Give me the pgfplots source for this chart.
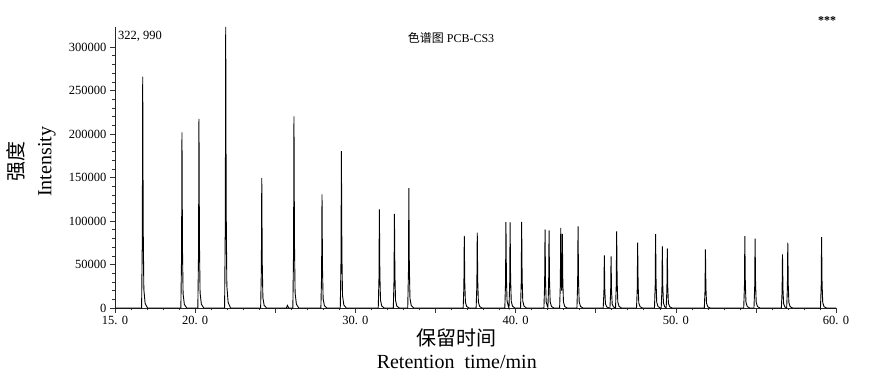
\documentclass[border=0pt]{standalone}
\usepackage{fontspec}
\setmainfont{Liberation Serif}
\newfontfamily\cjk{Noto Sans CJK SC}
\usepackage{pgfplots}
\pgfplotsset{compat=1.18}
\pgfplotstableread{
t h
15.0 0
16.66 0
16.705 79800
16.73 266000
16.76 93100
16.80 21300
16.88 5300
17.03 0
19.11 0
19.155 60600
19.18 202000
19.21 70700
19.25 16200
19.33 4000
19.48 0
20.17 0
20.215 65300
20.24 217500
20.27 76100
20.31 17400
20.39 4400
20.54 0
21.84 0
21.885 96900
21.91 322990
21.94 113000
21.98 25800
22.06 6500
22.21 0
24.09 0
24.135 44800
24.16 149400
24.19 52300
24.23 12000
24.31 3000
24.46 0
25.70 0
25.76 3000
25.84 0
26.10 0
26.145 66100
26.17 220200
26.20 77100
26.24 17600
26.32 4400
26.47 0
27.85 0
27.895 39200
27.92 130700
27.95 45700
27.99 10500
28.07 2600
28.22 0
29.06 0
29.105 54100
29.13 180300
29.16 63100
29.20 14400
29.28 3600
29.43 0
31.43 0
31.475 34000
31.50 113300
31.53 39700
31.57 9100
31.65 2300
31.80 0
32.37 0
32.415 32500
32.44 108300
32.47 37900
32.51 8700
32.59 2200
32.74 0
33.27 0
33.315 41300
33.34 137800
33.37 48200
33.41 11000
33.49 2800
33.64 0
36.73 0
36.775 24900
36.80 83000
36.83 29100
36.87 6600
36.95 1700
37.10 0
37.54 0
37.585 26000
37.61 86500
37.64 30300
37.68 6900
37.76 1700
37.91 0
39.33 0
39.375 29600
39.40 98700
39.43 34500
39.47 7900
39.55 2000
39.59 0
39.635 29500
39.66 98300
39.69 34400
39.73 7900
39.81 2000
39.96 0
40.31 0
40.355 29700
40.38 99100
40.41 34700
40.45 7900
40.53 2000
40.68 0
41.77 0
41.815 27100
41.84 90300
41.87 31600
41.91 7200
41.99 1800
42.02 800
42.065 26700
42.09 89100
42.12 31200
42.16 7100
42.24 1800
42.39 0
42.75 0
42.795 27700
42.82 92200
42.85 32300
42.87 20000
42.895 25600
42.92 85300
42.95 29900
42.99 6800
43.07 1700
43.22 0
43.83 0
43.875 28100
43.90 93700
43.93 32800
43.97 7500
44.05 1900
44.20 0
45.47 0
45.515 18100
45.54 60400
45.57 21100
45.61 4800
45.69 1200
45.84 0
45.89 0
45.935 17800
45.96 59200
45.99 20700
46.03 4700
46.11 1200
46.24 0
46.285 26400
46.31 88000
46.34 30800
46.38 7000
46.46 1800
46.61 0
47.55 0
47.595 22500
47.62 75000
47.65 26300
47.69 6000
47.77 1500
47.92 0
48.67 0
48.715 25500
48.74 84900
48.77 29700
48.81 6800
48.89 1700
49.04 0
49.09 0
49.135 21200
49.16 70700
49.19 24700
49.23 5700
49.31 1400
49.40 0
49.445 20500
49.47 68400
49.50 23900
49.54 5500
49.62 1400
49.77 0
51.78 0
51.825 20200
51.85 67300
51.88 23600
51.92 5400
52.00 1300
52.15 0
54.24 0
54.285 24800
54.31 82600
54.34 28900
54.38 6600
54.46 1700
54.61 0
54.88 0
54.925 23900
54.95 79600
54.98 27900
55.02 6400
55.10 1600
55.25 0
56.59 0
56.635 18500
56.66 61500
56.69 21500
56.73 4900
56.81 1200
56.92 0
56.965 22500
56.99 75000
57.02 26300
57.06 6000
57.14 1500
57.29 0
59.03 0
59.075 24400
59.10 81400
59.13 28500
59.17 6500
59.25 1600
59.40 0
60.0 0
}\chrom
\begin{document}
\begin{tikzpicture}[x=1pt,y=1pt]
\useasboundingbox (0,0) rectangle (874,374);
\begin{axis}[
  at={(115pt,66pt)}, anchor=south west,
  scale only axis, width=721pt, height=281pt,
  xmin=15, xmax=60, ymin=0, ymax=322990,
  axis lines*=left,
  axis line style={black!85, line width=0.6pt},
  clip=false,
  scaled y ticks=false, scaled x ticks=false,
  xtick={15,20,25,30,35,40,45,50,55,60},
  xticklabels={15. 0,20. 0,,30. 0,,40. 0,,50. 0,,60. 0},
  minor x tick num=4,
  ytick={0,50000,100000,150000,200000,250000,300000},
  yticklabels={0,50000,100000,150000,200000,250000,300000},
  minor y tick num=4,
  tick align=outside,
  major tick length=5pt,
  minor tick length=2.5pt,
  every tick/.style={black!80, line width=0.5pt},
  /pgf/number format/assume math mode=true,
  ticklabel style={font=\fontsize{12.5}{14}\selectfont},
  xlabel={{\cjk 保留时间}\\Retention\ \ time/min},
  xlabel style={at={(axis description cs:0.474,-0.146)}, anchor=center, align=center, font=\fontsize{20}{23}\selectfont},
  ylabel={{\cjk 强度}\\Intensity},
  ylabel style={at={(axis description cs:-0.1165,0.52)}, anchor=center, align=center, font=\fontsize{20}{28}\selectfont},
]
\addplot[black, line width=0.9pt, sharp plot, no markers] table[x=t, y=h] {\chrom};
\end{axis}
\node[font=\fontsize{12}{14}\selectfont] at (451,336) {{\cjk 色谱图} PCB-CS3};
\node[font=\fontsize{12.5}{14}\selectfont] at (140,337.5) {322, 990};
\node[font=\bfseries\fontsize{12}{14}\selectfont] at (827,353) {***};
\end{tikzpicture}
\end{document}
